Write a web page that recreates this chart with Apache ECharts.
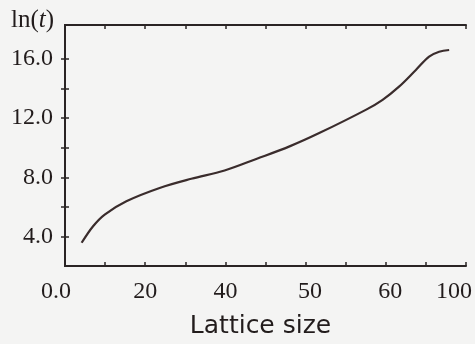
<!DOCTYPE html>
<html>
<head>
<meta charset="utf-8">
<script src="https://cdn.jsdelivr.net/npm/echarts@6/dist/echarts.min.js"></script>
<style>
html,body{margin:0;padding:0;background:#f4f4f3;}
#chart{width:475px;height:344px;}
</style>
</head>
<body>
<div id="chart"></div>
<script>
// x: position along the lattice-size axis (0..100 of the axis span)
var xPos = [4.15, 7.0, 9.9, 15.3, 23.6, 31.5, 39.8, 47.7, 56.0, 63.4, 75.0, 79.2, 83.3, 87.5, 90.8, 93.3, 95.8];
var lnT  = [3.57, 4.69, 5.48, 6.38, 7.28, 7.90, 8.46, 9.24, 10.09, 10.99, 12.56, 13.24, 14.13, 15.26, 16.16, 16.49, 16.61];
var xTickLabels = {0: '0.0', 20: '20', 40: '40', 60: '50', 80: '60', 100: '100'};
var yTickLabels = [4, 8, 12, 16];
var yTicks = [4, 6, 8, 10, 12, 14, 16];
var xTitle = 'Lattice size';

var data = xPos.map(function (x, i) { return [x, lnT[i]]; });
var axisColor = '#2a2424';
var textColor = '#221c1c';
var serif = '"Liberation Serif", "DejaVu Serif", serif';

var chart = echarts.init(document.getElementById('chart'));
chart.setOption({
  backgroundColor: '#f4f4f3',
  animation: false,
  grid: {left: 65, right: 8, top: 25, bottom: 78},
  xAxis: [{
    type: 'value', min: 0, max: 100, interval: 10, position: 'bottom',
    axisLine: {lineStyle: {color: axisColor, width: 2}},
    axisTick: {inside: true, length: 4, lineStyle: {color: axisColor, width: 1.5}},
    splitLine: {show: false},
    axisLabel: {
      margin: 14,
      color: textColor, fontFamily: serif, fontSize: 24,
      formatter: function (v) {
        var t = xTickLabels[Math.round(v)];
        if (t === undefined) return '';
        if (v === 0) return '{l|' + t + '}';
        if (v === 100) return '{r|' + t + '}';
        if (v === 60 || v === 80) return '{s|' + t + '}';
        return t;
      },
      rich: {
        l: {fontFamily: serif, fontSize: 24, color: textColor, padding: [0, 18, 0, 0]},
        r: {fontFamily: serif, fontSize: 24, color: textColor, padding: [0, 24, 0, 0]},
        s: {fontFamily: serif, fontSize: 24, color: textColor, padding: [0, 0, 0, 9]}
      }
    },
    name: xTitle, nameLocation: 'middle', nameGap: 48,
    nameTextStyle: {fontFamily: '"DejaVu Sans", sans-serif', fontSize: 25, color: textColor, padding: [0, 10, 0, 0]}
  }, {
    type: 'value', min: 0, max: 100, interval: 10, position: 'top',
    axisLine: {lineStyle: {color: axisColor, width: 2}},
    axisTick: {inside: true, length: 4, lineStyle: {color: axisColor, width: 1.5}},
    axisLabel: {show: false}, splitLine: {show: false}
  }],
  yAxis: [{
    type: 'value', min: 2, max: 18.3, interval: 2, position: 'left',
    axisLine: {show: true, lineStyle: {color: axisColor, width: 2}},
    axisTick: {show: true, inside: true, length: 4, customValues: yTicks, lineStyle: {color: axisColor, width: 1.5}},
    splitLine: {show: false},
    axisLabel: {
      margin: 12, color: textColor, fontFamily: serif, fontSize: 24,
      formatter: function (v) {
        return yTickLabels.indexOf(Math.round(v * 10) / 10) >= 0 ? v.toFixed(1) : '';
      }
    }
  }, {
    type: 'value', min: 2, max: 18.3, interval: 2, position: 'right',
    axisLine: {show: true, lineStyle: {color: axisColor, width: 2}},
    axisTick: {show: true, inside: true, length: 4, customValues: yTicks, lineStyle: {color: axisColor, width: 1.5}},
    axisLabel: {show: false}, splitLine: {show: false}
  }],
  graphic: [{
    type: 'text', left: 11, top: 8,
    style: {
      text: '{a|ln(}{b|t}{a|)}',
      rich: {
        a: {fontFamily: serif, fontSize: 25, fill: textColor},
        b: {fontFamily: serif, fontSize: 25, fontStyle: 'italic', fill: textColor}
      }
    }
  }],
  series: [{
    type: 'line', data: data, smooth: 0.35, showSymbol: false, symbol: 'none',
    xAxisIndex: 0, yAxisIndex: 0,
    lineStyle: {color: '#3a2c2c', width: 2.2}
  }]
});
</script>
</body>
</html>
